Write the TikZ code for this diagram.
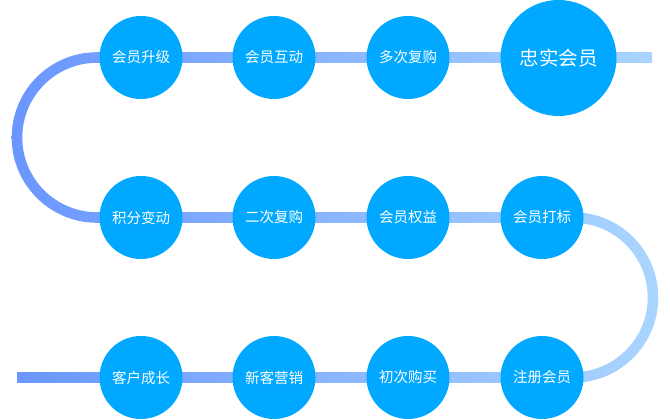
\documentclass[tikz,border=0pt]{standalone}
\usepackage{fontspec}
\newfontfamily\cjk{Noto Sans CJK SC}
\definecolor{circ}{RGB}{0,168,255}
\definecolor{lineL}{RGB}{106,150,255}
\definecolor{lineR}{RGB}{170,213,255}
\begin{document}
\begin{tikzpicture}[x=1pt,y=1pt,
  stage/.style={circle,fill=circ,minimum size=83pt,inner sep=0pt,text=white,font=\cjk\fontsize{14.5}{16}\selectfont},
  bigstage/.style={circle,fill=circ,minimum size=116pt,inner sep=0pt,text=white,font=\cjk\fontsize{19.5}{22}\selectfont}]
\useasboundingbox (0,0) rectangle (670,420);
% serpentine band with horizontal gradient
\def\h{5.3}
\shade[left color=lineL,right color=lineR]
  (17,42.5-\h) -- (573,42.5-\h)
  arc[start angle=-90,end angle=90,radius=80+\h]
  -- (97,202.5+\h)
  arc[start angle=-90,end angle=-270,radius=80-\h]
  -- (652,362.5-\h) -- (652,362.5+\h) -- (97,362.5+\h)
  arc[start angle=90,end angle=270,radius=80+\h]
  -- (573,202.5-\h)
  arc[start angle=90,end angle=-90,radius=80-\h]
  -- (17,42.5+\h) -- cycle;
% top row
\node[stage] (a1) at (141,362.5) {会员升级};
\node[stage] (a2) at (274,362.5) {会员互动};
\node[stage] (a3) at (408,362.5) {多次复购};
\node[bigstage] (a4) at (558.5,362) {忠实会员};
% middle row
\node[stage] (b1) at (141,202.5) {积分变动};
\node[stage] (b2) at (274,202.5) {二次复购};
\node[stage] (b3) at (408,202.5) {会员权益};
\node[stage] (b4) at (542,202.5) {会员打标};
% bottom row
\node[stage] (c1) at (141,42.5) {客户成长};
\node[stage] (c2) at (274,42.5) {新客营销};
\node[stage] (c3) at (408,42.5) {初次购买};
\node[stage] (c4) at (542,42.5) {注册会员};
\end{tikzpicture}
\end{document}
